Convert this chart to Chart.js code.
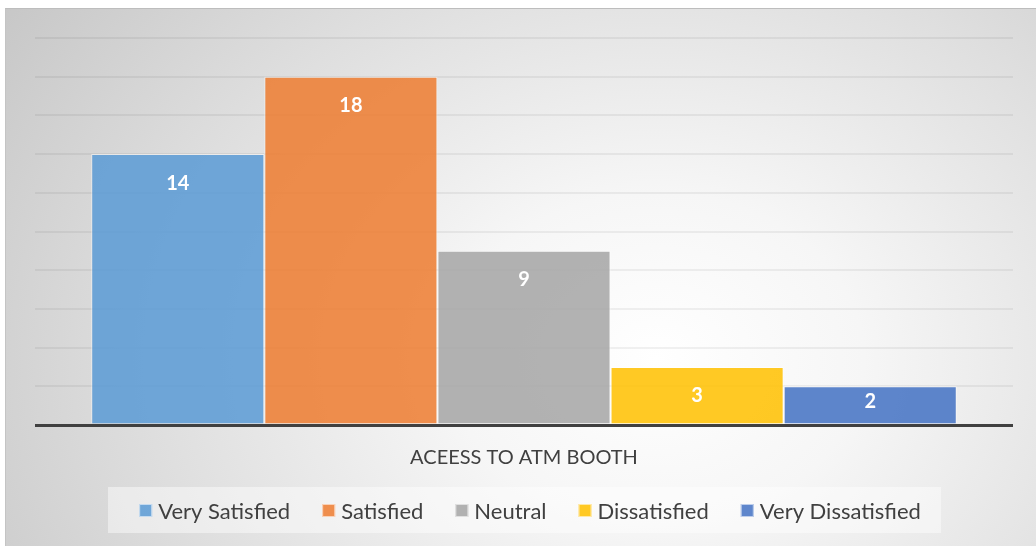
<!DOCTYPE html>
<html>
<head>
<meta charset="utf-8">
<script src="https://cdn.jsdelivr.net/npm/chart.js@4/dist/chart.umd.min.js"></script>
<style>
  html, body { margin: 0; padding: 0; background: #ffffff; }
  #frame {
    position: absolute; left: 5px; top: 8px; width: 1030px; height: 537px;
    border-top: 1px solid #bdbdbd; border-left: 1px solid #c4c4c4;
    background: radial-gradient(ellipse 800px 640px at 650px 350px,
      #ffffff 0%, #f6f6f6 26%, #dedede 64%, #c6c6c6 100%);
  }
  #chart { position: absolute; left: 0; top: 0; }
</style>
</head>
<body>
<div id="frame"></div>
<canvas id="chart" width="1036" height="546"></canvas>
<script>
// Survey responses for ATM booth access
const categories = ['ACEESS TO ATM BOOTH'];
const seriesNames = ['Very Satisfied', 'Satisfied', 'Neutral', 'Dissatisfied', 'Very Dissatisfied'];
const seriesValues = [14, 18, 9, 3, 2];
const seriesColors = ['#5B9BD5', '#ED7D31', '#A5A5A5', '#FFC000', '#4472C4'];
const yTicks = [0, 2, 4, 6, 8, 10, 12, 14, 16, 18, 20];

function withAlpha(hex, a) {
  const n = parseInt(hex.slice(1), 16);
  return `rgba(${(n >> 16) & 255},${(n >> 8) & 255},${n & 255},${a})`;
}

const datasets = seriesNames.map((name, i) => ({
  label: name,
  data: [seriesValues[i]],
  backgroundColor: withAlpha(seriesColors[i], 0.86),
  borderColor: 'rgba(255,255,255,0.55)',
  borderWidth: 1,
  borderSkipped: 'bottom',
  categoryPercentage: 0.885,
  barPercentage: 1.0
}));

const FONT = 'Lato, "Open Sans", sans-serif';

// White value labels near the top of each bar
const valueLabels = {
  id: 'valueLabels',
  afterDatasetsDraw(chart) {
    const ctx = chart.ctx;
    const base = chart.scales.y.getPixelForValue(0);
    ctx.save();
    ctx.fillStyle = '#ffffff';
    ctx.font = 'bold 20px ' + FONT;
    ctx.textAlign = 'center';
    ctx.textBaseline = 'middle';
    chart.data.datasets.forEach((ds, i) => {
      const bar = chart.getDatasetMeta(i).data[0];
      const h = base - bar.y;
      const off = Math.min(29, h - 23);
      ctx.fillText(String(ds.data[0]), bar.x, bar.y + off);
    });
    ctx.restore();
  }
};

// Category caption under the axis and the boxed legend row
const captionAndLegend = {
  id: 'captionAndLegend',
  afterDraw(chart) {
    const ctx = chart.ctx;
    const area = chart.chartArea;
    const cx = (area.left + area.right) / 2;
    ctx.save();
    ctx.fillStyle = '#404040';
    ctx.font = '20px ' + FONT;
    ctx.textAlign = 'center';
    ctx.textBaseline = 'middle';
    ctx.fillText(categories[0], cx, 458);

    // legend panel
    ctx.fillStyle = 'rgba(255,255,255,0.45)';
    ctx.fillRect(108, 487, 833, 46);

    ctx.font = '22px ' + FONT;
    ctx.textAlign = 'left';
    const box = 13, gapBox = 6, gapItem = 32;
    const widths = seriesNames.map(n => box + gapBox + ctx.measureText(n).width);
    const total = widths.reduce((a, b) => a + b, 0) + gapItem * (seriesNames.length - 1);
    let x = cx + 6 - total / 2;
    const y = 511;
    seriesNames.forEach((n, i) => {
      ctx.fillStyle = withAlpha(seriesColors[i], 0.86);
      ctx.fillRect(x, y - 7, box, box);
      ctx.strokeStyle = 'rgba(255,255,255,0.6)';
      ctx.lineWidth = 1;
      ctx.strokeRect(x + 0.5, y - 6.5, box - 1, box - 1);
      ctx.fillStyle = '#404040';
      ctx.fillText(n, x + box + gapBox, y + 1);
      x += widths[i] + gapItem;
    });
    ctx.restore();
  }
};

new Chart(document.getElementById('chart'), {
  type: 'bar',
  data: { labels: categories, datasets },
  options: {
    responsive: false,
    animation: false,
    layout: { padding: { left: 35, right: 23, top: 38, bottom: 121 } },
    plugins: {
      legend: { display: false },
      tooltip: { enabled: false }
    },
    scales: {
      x: { display: false },
      y: {
        min: yTicks[0],
        max: yTicks[yTicks.length - 1],
        afterBuildTicks(scale) { scale.ticks = yTicks.map(v => ({ value: v })); },
        ticks: { display: false },
        border: { display: false },
        grid: {
          drawTicks: false,
          color: c => (c.tick && c.tick.value === 0) ? '#404040' : 'rgba(0,0,0,0.055)',
          lineWidth: c => (c.tick && c.tick.value === 0) ? 3 : 2
        }
      }
    }
  },
  plugins: [valueLabels, captionAndLegend]
});
</script>
</body>
</html>
